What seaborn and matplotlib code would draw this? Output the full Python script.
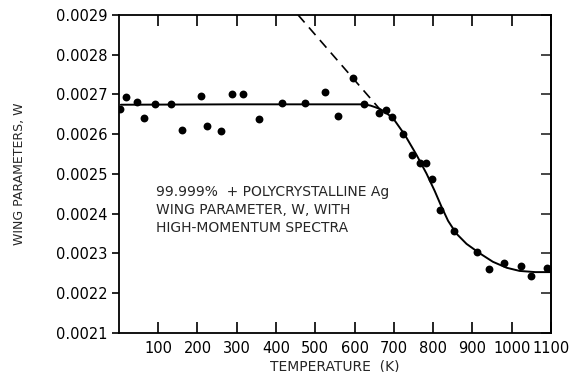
import numpy as np
import pandas as pd
import matplotlib
matplotlib.use('Agg')
import matplotlib.pyplot as plt
import seaborn as sns

# measured points (temperature in K, wing parameter W)
temp = [4, 17, 45, 64, 91, 132, 161, 208, 224, 260, 289, 316, 357, 416, 473,
        524, 559, 595, 624, 661, 679, 694, 722, 747, 767, 783, 798, 818, 854,
        911, 943, 980, 1024, 1049, 1089]
wing = [0.002663, 0.002693, 0.002682, 0.002640, 0.002676, 0.002676, 0.002610,
        0.002695, 0.002621, 0.002607, 0.002702, 0.002702, 0.002639, 0.002678,
        0.002678, 0.002705, 0.002646, 0.002740, 0.002675, 0.002653, 0.002660,
        0.002644, 0.002600, 0.002548, 0.002527, 0.002527, 0.002488, 0.002408,
        0.002356, 0.002304, 0.002262, 0.002276, 0.002268, 0.002242, 0.002263]

# fitted curve
fit_t = [5, 300, 623, 640, 652, 665, 677, 698, 728, 757, 783, 804, 821, 838,
         859, 885, 919, 952, 987, 1020, 1060, 1100]
fit_w = [0.002674, 0.002675, 0.002675, 0.002672, 0.002668, 0.002663, 0.002656,
         0.002640, 0.002598, 0.002549, 0.002501, 0.002457, 0.002418, 0.002382,
         0.002350, 0.002324, 0.002300, 0.002279, 0.002264, 0.002256, 0.002253,
         0.002253]

# dashed extrapolation
dash_t = [456, 671]
dash_w = [0.0029, 0.002655]

x_ticks = [100, 200, 300, 400, 500, 600, 700, 800, 900, 1000, 1100]
y_ticks = [0.0021, 0.0022, 0.0023, 0.0024, 0.0025, 0.0026, 0.0027, 0.0028, 0.0029]

sns.set_style('ticks')
plt.rcParams['font.family'] = ['DejaVu Sans']

fig = plt.figure(figsize=(5.8, 3.72), dpi=100)
ax = fig.add_axes([0.205, 0.105, 0.745, 0.855])

pts = pd.DataFrame({'T': temp, 'W': wing})
fit = pd.DataFrame({'T': fit_t, 'W': fit_w})
dsh = pd.DataFrame({'T': dash_t, 'W': dash_w})

sns.lineplot(data=fit, x='T', y='W', ax=ax, color='black', lw=1.4, sort=False)
sns.lineplot(data=dsh, x='T', y='W', ax=ax, color='black', lw=1.2, sort=False,
             dashes=False, linestyle=(0, (6, 4)))
sns.scatterplot(data=pts, x='T', y='W', ax=ax, color='black', s=32,
                edgecolor='black', linewidth=0, zorder=3)

ax.set_xlim(0, 1100)
ax.set_ylim(0.0021, 0.0029)
ax.set_xticks(x_ticks)
ax.set_xticklabels([str(t) for t in x_ticks], fontsize=10.5)
ax.set_yticks(y_ticks)
ax.set_yticklabels(['%.4f' % v for v in y_ticks], fontsize=10.5)

for s in ax.spines.values():
    s.set_linewidth(1.3)
    s.set_color('black')

ax.tick_params(axis='x', direction='in', length=8, width=1.2, top=True,
               pad=6, colors='black')
ax.tick_params(axis='y', which='both', direction='out', length=5, width=1.2,
               left=True, right=False, pad=3, colors='black')
ax2 = ax.secondary_yaxis('right')
ax2.set_yticks(y_ticks)
ax2.tick_params(direction='in', length=7, width=1.2, labelright=False)
ax2.spines['right'].set_linewidth(1.3)

ax.set_xlabel('TEMPERATURE  (K)', fontsize=10, labelpad=2)
ax.set_ylabel('WING PARAMETERS, W', fontsize=9, labelpad=22)

ax.text(0.087, 0.386, '99.999%  + POLYCRYSTALLINE Ag\nWING PARAMETER, W, WITH\nHIGH-MOMENTUM SPECTRA',
        transform=ax.transAxes, fontsize=10, linespacing=1.35, va='center', ha='left')

fig.savefig('out.png', dpi=100)
